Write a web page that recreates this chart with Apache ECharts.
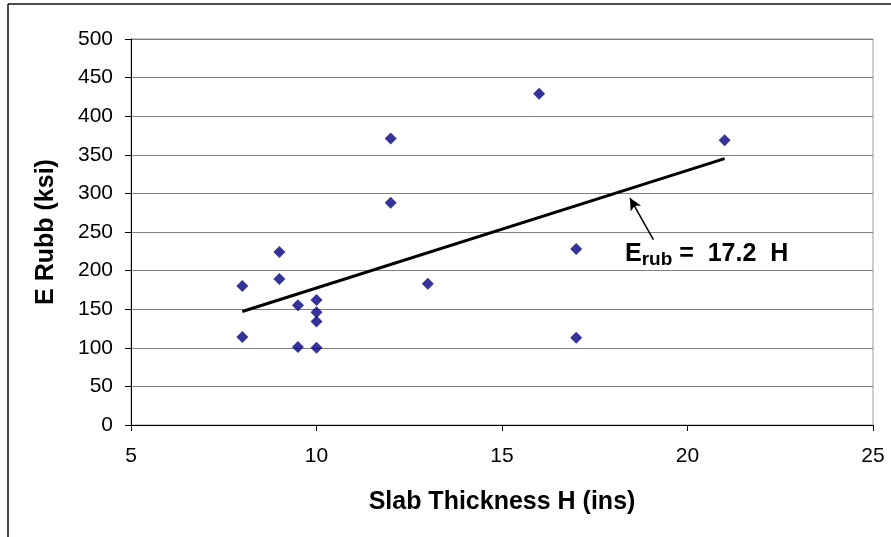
<!DOCTYPE html>
<html>
<head>
<meta charset="utf-8">
<script src="https://cdn.jsdelivr.net/npm/echarts@6/dist/echarts.min.js"></script>
<style>
html,body{margin:0;padding:0;background:#fff;}
#chart{width:891px;height:537px;}
</style>
</head>
<body>
<div id="chart"></div>
<script>
// Data
var thicknessH = [8, 8, 9, 9, 9.5, 9.5, 10, 10, 10, 10, 12, 12, 13, 16, 17, 17, 21];
var eRubb = [180, 114, 224, 189, 155, 101, 162, 146, 134, 100, 371, 288, 183, 429, 228, 113, 369];
var trendX = [8, 21];
var trendY = [147, 345];
var xTicks = [5, 10, 15, 20, 25];
var yTicks = [0, 50, 100, 150, 200, 250, 300, 350, 400, 450, 500];

var points = thicknessH.map(function (h, i) { return [h, eRubb[i]]; });
var trend = trendX.map(function (h, i) { return [h, trendY[i]]; });

var chart = echarts.init(document.getElementById('chart'));
chart.setOption({
  animation: false,
  backgroundColor: '#fff',
  grid: {
    left: 131, right: 18, top: 39, bottom: 112,
    show: true, borderColor: '#999', borderWidth: 1, backgroundColor: 'transparent'
  },
  xAxis: {
    type: 'value',
    min: xTicks[0], max: xTicks[xTicks.length - 1], interval: 5,
    name: 'Slab Thickness H (ins)',
    nameLocation: 'middle',
    nameGap: 65,
    nameTextStyle: { fontFamily: 'Liberation Sans, Arial, sans-serif', fontWeight: 'bold', fontSize: 25, color: '#000' },
    axisLine: { show: true, onZero: false, lineStyle: { color: '#000', width: 1 } },
    axisTick: { show: true, length: 6, lineStyle: { color: '#000' } },
    axisLabel: { margin: 21, fontFamily: 'Liberation Sans Narrow, Liberation Sans, Arial, sans-serif', fontSize: 21, color: '#000' },
    splitLine: { show: false }
  },
  yAxis: {
    type: 'value',
    min: yTicks[0], max: yTicks[yTicks.length - 1], interval: 50,
    name: 'E Rubb (ksi)',
    nameLocation: 'middle',
    nameGap: 72,
    nameTextStyle: { fontFamily: 'Liberation Sans, Arial, sans-serif', fontWeight: 'bold', fontSize: 25, color: '#000' },
    axisLine: { show: true, onZero: false, lineStyle: { color: '#000', width: 1 } },
    axisTick: { show: true, length: 6, lineStyle: { color: '#000' } },
    axisLabel: { margin: 18, fontFamily: 'Liberation Sans, Arial, sans-serif', fontSize: 21, color: '#000' },
    splitLine: { show: true, lineStyle: { color: '#808080', width: 1 } }
  },
  series: [
    {
      type: 'scatter',
      data: points,
      symbol: 'diamond',
      symbolSize: [12, 12],
      itemStyle: { color: '#000080' },
      z: 3
    },
    {
      type: 'line',
      data: trend,
      showSymbol: false,
      symbol: 'none',
      lineStyle: { color: '#000', width: 3 },
      z: 2,
      markLine: {
        silent: true,
        symbol: ['none', 'arrow'],
        symbolSize: [9, 12],
        label: { show: false },
        lineStyle: { color: '#000', width: 1.5, type: 'solid' },
        data: [[{ coord: [19.08, 240] }, { coord: [18.45, 294] }]]
      }
    }
  ],
  graphic: [
    { type: 'line', shape: { x1: 8, y1: 4, x2: 891, y2: 4 }, style: { stroke: '#111', lineWidth: 1.5 } },
    { type: 'line', shape: { x1: 8, y1: 4, x2: 8, y2: 537 }, style: { stroke: '#111', lineWidth: 1.5 } },
    {
      type: 'text',
      left: 625,
      top: 242,
      style: {
        text: '{e|E}{s|rub}{e| =  17.2  H}',
        rich: {
          e: { fontFamily: 'Liberation Sans, Arial, sans-serif', fontWeight: 'bold', fontSize: 25, fill: '#000', verticalAlign: 'bottom' },
          s: { fontFamily: 'Liberation Sans, Arial, sans-serif', fontWeight: 'bold', fontSize: 19, fill: '#000', verticalAlign: 'bottom', padding: [0, 0, -2, 0] }
        }
      }
    }
  ]
});
</script>
</body>
</html>
